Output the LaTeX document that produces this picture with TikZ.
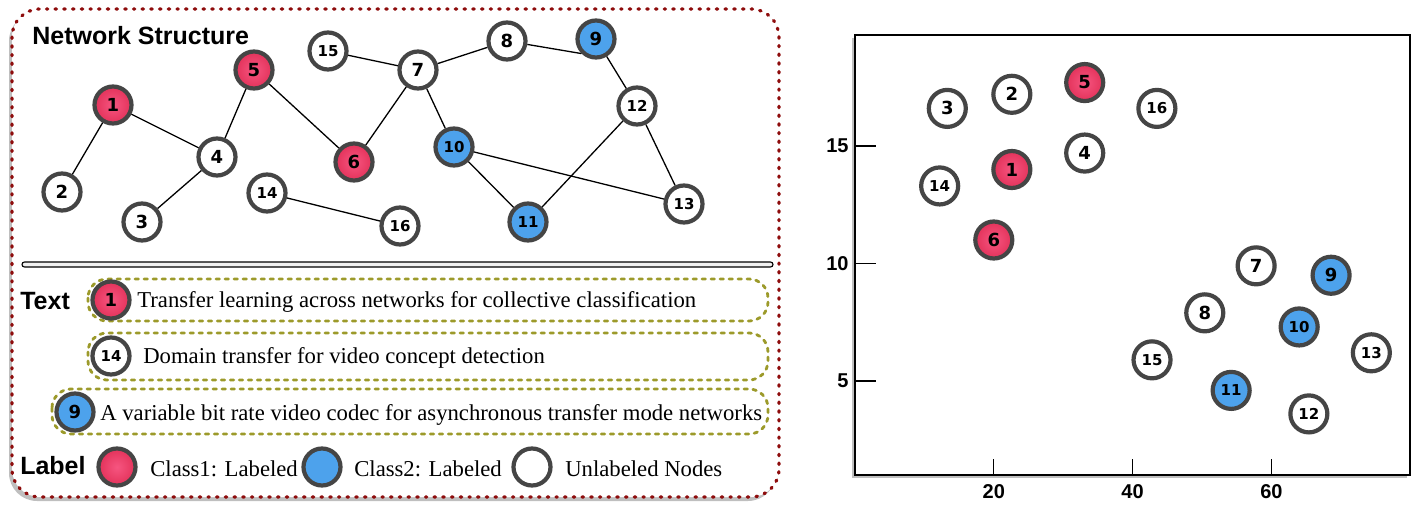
\documentclass[tikz,border=0pt]{standalone}
\usepackage{fontspec}
\setmainfont{Liberation Serif}
\newfontfamily\headfont{Liberation Sans}
\newfontfamily\numfont{DejaVu Sans}
\usepackage{xcolor}
\usepackage{tikz}
\usetikzlibrary{positioning}
\usetikzlibrary{shadows}

\definecolor{clsred}{HTML}{E3325A}
\definecolor{clsredlight}{HTML}{F65580}
\definecolor{clsblue}{HTML}{4DA2EC}
\definecolor{rim}{HTML}{454545}
\definecolor{boxred}{HTML}{8E0C0C}
\definecolor{olivedash}{HTML}{9C9A2A}

\begin{document}
\begin{tikzpicture}[x=1pt,y=-1pt,semithick]
	\tikzstyle{vertex}=[circle, draw=rim, line width=4.2pt, minimum size=37pt, inner sep=0pt, fill=white, font=\numfont\bfseries\fontsize{18}{18}\selectfont]
	\tikzstyle{lab1}=[vertex, inner color=clsredlight, outer color=clsred]
	\tikzstyle{lab2}=[vertex, fill=clsblue]
	\tikzstyle{two}=[font=\numfont\bfseries\fontsize{15}{15}\selectfont]
	\tikzstyle{head}=[font=\headfont\bfseries\fontsize{25}{25}\selectfont, inner sep=0pt, anchor=base west]
	\tikzstyle{paper}=[font=\fontsize{22.7}{22.7}\selectfont, inner sep=0pt, anchor=base west]
	\tikzstyle{textrow}=[draw=olivedash, line width=2.8pt, dash pattern=on 3.5pt off 5.5pt, line cap=round, rounded corners=19pt]
	\tikzstyle{ticklabel}=[font=\headfont\bfseries\fontsize{20}{20}\selectfont]
	\tikzstyle{edge}=[line width=1.3pt]

	\useasboundingbox (0,0) rectangle (1425,511);

	\path[fill=white, rounded corners=28pt, drop shadow={shadow xshift=-3pt, shadow yshift=-4pt, opacity=.5}] (12,9) rectangle (779,497);
	\draw[boxred, line width=3.2pt, dash pattern=on 1.5pt off 7.2pt, line cap=round, rounded corners=28pt] (12,9) rectangle (779,497);
	\draw[line width=1.1pt, fill=black!6, rounded corners=2.5pt] (22,262) rectangle (773,267);

	\node[head] (title) at (32,45) {Network Structure};

	\node[lab1] (g1) at (113,105) {1};
	\node[vertex] (g2) at (62,192) {2};
	\node[vertex] (g3) at (142,222) {3};
	\node[vertex] (g4) at (217,157) {4};
	\node[lab1] (g5) at (254,70) {5};
	\node[lab1] (g6) at (354,162) {6};
	\node[vertex] (g7) at (418,70) {7};
	\node[vertex] (g8) at (507,41) {8};
	\node[lab2] (g9) at (596,39) {9};
	\node[lab2,two] (g10) at (454,147) {10};
	\node[lab2,two] (g11) at (528,222) {11};
	\node[vertex,two] (g12) at (637,106) {12};
	\node[vertex,two] (g13) at (684,204) {13};
	\node[vertex,two] (g14) at (267,193) {14};
	\node[vertex,two] (g15) at (328,51) {15};
	\node[vertex,two] (g16) at (400,226) {16};

	\foreach \a/\b in {1/2,1/4,3/4,4/5,5/6,6/7,15/7,7/8,7/10,9/12,12/11,12/13,10/11,10/13,14/16}{
		\draw[edge] (g\a) -- (g\b);
		}
	\draw[edge] (g8) -- (g9.south west);

	\node[head] (txt) at (20,309) {Text};
	\draw[textrow] (88,279) rectangle (768,321);
	\draw[textrow] (88,333) rectangle (768,380);
	\draw[textrow] (52,389) rectangle (768,434);
	\node[lab1] (t1) at (111,300) {1};
	\node[vertex,two] (t14) at (111,356) {14};
	\node[lab2] (t9) at (75,412) {9};
	\node[paper] (s1) at (137,307) {Transfer learning across networks for collective classification};
	\node[paper] (s14) at (143,363) {Domain transfer for video concept detection};
	\node[paper] (s9) at (100,420) {A variable bit rate video codec for asynchronous transfer mode networks};

	\node[head] (lbl) at (20,474) {Label};
	\node[lab1] (l1) at (117,467) {};
	\node[paper] (c1) at (150,476) {Class1: Labeled};
	\node[lab2] (l2) at (322,467) {};
	\node[paper] (c2) at (354,476) {Class2: Labeled};
	\node[vertex] (l3) at (532,467) {};
	\node[paper] (c3) at (565,476) {Unlabeled Nodes};

	\begin{scope}[shift={(855pt,-498.5pt)}, x=6.94pt, y=23.5pt]
		\path[fill=white, drop shadow={shadow xshift=-3pt, shadow yshift=-3pt, opacity=.5}] (0,1) rectangle (80,19.72);
		\draw[line width=1.5pt] (0,1) rectangle (80,19.72);
		\foreach \v in {20,40,60}{
			\draw[line width=1.2pt] (\v,1) -- (\v,1.68);
			\node[ticklabel] at (\v,0.28) {\v};
			}
		\foreach \v in {5,10,15}{
			\draw[line width=1.2pt] (0,\v) -- (3,\v);
			\node[ticklabel, anchor=east] at (-0.4,\v) {\v};
			}

		\node[lab1] (p1) at (22.6,14.0) {1};
		\node[vertex] (p2) at (22.6,17.2) {2};
		\node[vertex] (p3) at (13.3,16.6) {3};
		\node[vertex] (p4) at (33.1,14.7) {4};
		\node[lab1] (p5) at (33.1,17.7) {5};
		\node[lab1] (p6) at (20.0,11.0) {6};
		\node[vertex] (p7) at (57.8,9.9) {7};
		\node[vertex] (p8) at (50.4,7.9) {8};
		\node[lab2] (p9) at (68.6,9.5) {9};
		\node[lab2,two] (p10) at (64.0,7.3) {10};
		\node[lab2,two] (p11) at (54.2,4.6) {11};
		\node[vertex,two] (p12) at (65.4,3.6) {12};
		\node[vertex,two] (p13) at (74.4,6.2) {13};
		\node[vertex,two] (p14) at (12.2,13.3) {14};
		\node[vertex,two] (p15) at (42.8,5.9) {15};
		\node[vertex,two] (p16) at (43.5,16.6) {16};
	\end{scope}
\end{tikzpicture}
\end{document}
